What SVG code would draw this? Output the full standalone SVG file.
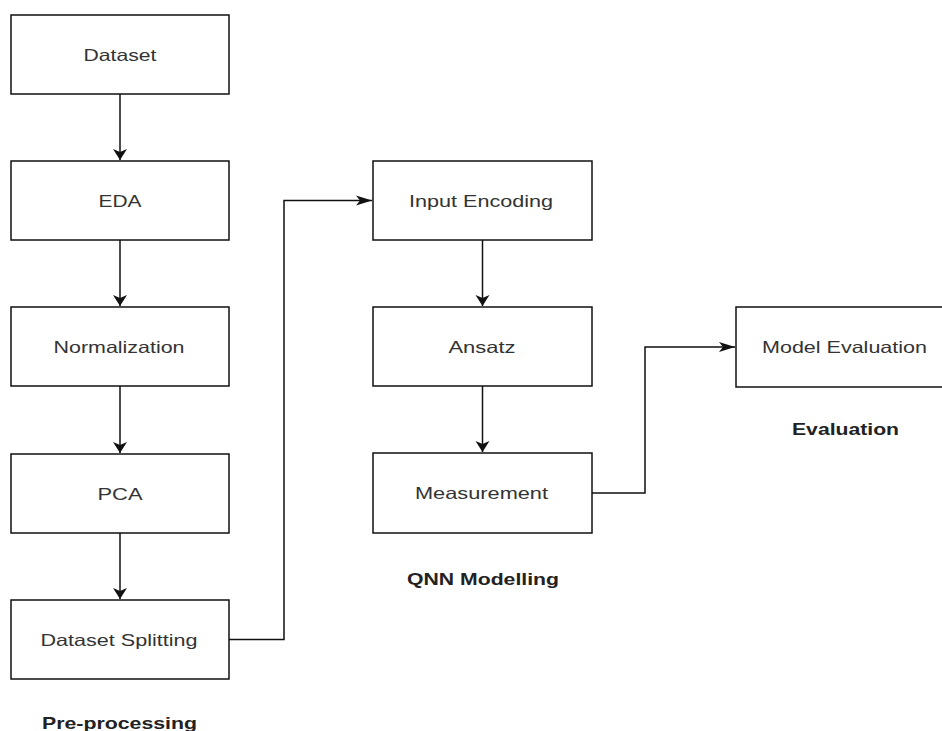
<svg xmlns="http://www.w3.org/2000/svg" width="942" height="731" viewBox="0 0 942 731">
<style>
.box{fill:#fff;stroke:#111;stroke-width:1.5}
.lbl{font-family:"Liberation Sans",Arial,sans-serif;font-size:16.5px;fill:#333;text-anchor:middle}
.title{font-family:"Liberation Sans",Arial,sans-serif;font-size:16.5px;font-weight:bold;fill:#222;text-anchor:middle}
.edge{fill:none;stroke:#111;stroke-width:1.5}
</style>
<defs>
<marker id="arrDown" markerUnits="userSpaceOnUse" markerWidth="14" markerHeight="16" viewBox="-12 -8 14 16" refX="0" refY="0" orient="auto">
<path d="M0,0 L-11,-7 L-8,0 L-11,7 Z" fill="#111"/>
</marker>
<marker id="arrRight" markerUnits="userSpaceOnUse" markerWidth="18" markerHeight="12" viewBox="-17 -6 18 12" refX="0" refY="0" orient="auto">
<path d="M0,0 L-16,-5 L-12,0 L-16,5 Z" fill="#111"/>
</marker>
</defs>
<g id="connectors">
<path class="edge" d="M120,94 V160" marker-end="url(#arrDown)"/>
<path class="edge" d="M120,240 V306" marker-end="url(#arrDown)"/>
<path class="edge" d="M120,386 V453" marker-end="url(#arrDown)"/>
<path class="edge" d="M120,533 V599" marker-end="url(#arrDown)"/>
<path class="edge" d="M229,639.5 H284 V200.5 H372" marker-end="url(#arrRight)"/>
<path class="edge" d="M482.5,240 V306" marker-end="url(#arrDown)"/>
<path class="edge" d="M482.5,386 V452" marker-end="url(#arrDown)"/>
<path class="edge" d="M592,493 H645 V347 H735" marker-end="url(#arrRight)"/>
</g>
<g id="dataset"><rect class="box" x="11" y="15" width="218" height="79"/><text class="lbl" x="120" y="60.5" textLength="73" lengthAdjust="spacingAndGlyphs">Dataset</text></g>
<g id="eda"><rect class="box" x="11" y="161" width="218" height="79"/><text class="lbl" x="120" y="206.5" textLength="43" lengthAdjust="spacingAndGlyphs">EDA</text></g>
<g id="normalization"><rect class="box" x="11" y="307" width="218" height="79"/><text class="lbl" x="119" y="352.5" textLength="131" lengthAdjust="spacingAndGlyphs">Normalization</text></g>
<g id="pca"><rect class="box" x="11" y="454" width="218" height="79"/><text class="lbl" x="120" y="499.5" textLength="45" lengthAdjust="spacingAndGlyphs">PCA</text></g>
<g id="dataset-splitting"><rect class="box" x="11" y="600" width="218" height="79"/><text class="lbl" x="119" y="645.5" textLength="157" lengthAdjust="spacingAndGlyphs">Dataset Splitting</text></g>
<g id="input-encoding"><rect class="box" x="373" y="161" width="219" height="79"/><text class="lbl" x="481" y="206.5" textLength="144" lengthAdjust="spacingAndGlyphs">Input Encoding</text></g>
<g id="ansatz"><rect class="box" x="373" y="307" width="219" height="79"/><text class="lbl" x="482" y="352.5" textLength="67" lengthAdjust="spacingAndGlyphs">Ansatz</text></g>
<g id="measurement"><rect class="box" x="373" y="453" width="219" height="80"/><text class="lbl" x="481.5" y="498.5" textLength="133" lengthAdjust="spacingAndGlyphs">Measurement</text></g>
<g id="model-evaluation"><rect class="box" x="736" y="307" width="218" height="80"/><text class="lbl" x="844.5" y="352.5" textLength="165" lengthAdjust="spacingAndGlyphs">Model Evaluation</text></g>
<g id="labels">
<text class="title" x="119.5" y="728.5" textLength="155" lengthAdjust="spacingAndGlyphs">Pre-processing</text>
<text class="title" x="483" y="584.5" textLength="152" lengthAdjust="spacingAndGlyphs">QNN Modelling</text>
<text class="title" x="845.5" y="435" textLength="107" lengthAdjust="spacingAndGlyphs">Evaluation</text>
</g>
</svg>
